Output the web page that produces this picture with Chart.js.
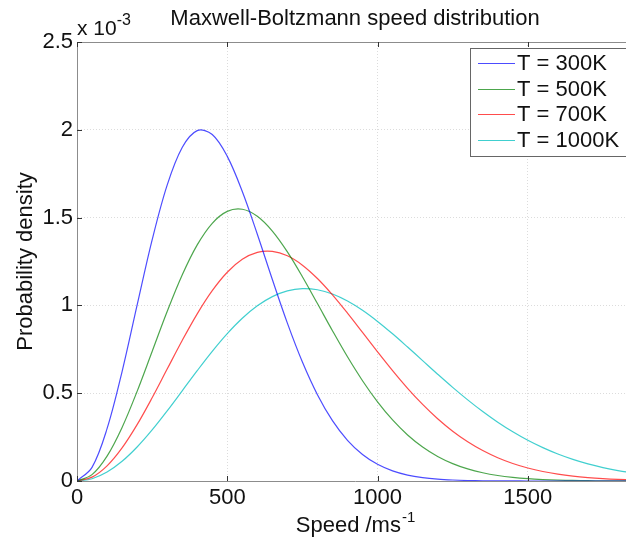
<!DOCTYPE html>
<html>
<head>
<meta charset="utf-8">
<script src="https://cdn.jsdelivr.net/npm/chart.js@4.4.1/dist/chart.umd.min.js"></script>
<style>
  html, body { margin: 0; padding: 0; background: #fff; overflow: hidden; }
  #wrap { width: 660px; height: 540px; }
</style>
</head>
<body>
<div id="wrap"><canvas id="mbChart" width="660" height="540"></canvas></div>
<script>
// Speeds (m/s) and densities (units of 1e-3)
const speeds = [0, 50, 100, 150, 200, 250, 300, 350, 400, 450, 500, 550, 600, 650, 700, 750, 800, 850, 900, 950,
    1000, 1050, 1100, 1150, 1200, 1250, 1300, 1350, 1400, 1450, 1500, 1550, 1600, 1650, 1700, 1750, 1800, 1850];

const t300 = [0, 0.0778, 0.2979, 0.6234, 1.0012, 1.3729, 1.6851, 1.8992, 1.9953, 1.9730, 1.8488, 1.6489, 1.4054, 1.1474,
    0.8992, 0.6776, 0.4917, 0.3439, 0.2319, 0.1510, 0.0949, 0.0578, 0.0339, 0.0193, 0.0106, 0.0057, 0.0029, 0.0015,
    0.0007, 0.0003, 0.0001, 0, 0, 0, 0, 0, 0, 0];
const t500 = [0, 0.0364, 0.1417, 0.3052, 0.5105, 0.7376, 0.9651, 1.1730, 1.3445, 1.4675, 1.5355, 1.5474, 1.5073, 1.4229,
    1.3045, 1.1632, 1.0104, 0.8557, 0.7072, 0.5711, 0.4506, 0.3476, 0.2623, 0.1938, 0.1400, 0.0992, 0.0688, 0.0468,
    0.0312, 0.0204, 0.0130, 0.0082, 0.0050, 0.0030, 0.0018, 0.0010, 0.0006, 0.0003];
const t700 = [0, 0.0220, 0.0864, 0.1885, 0.3208, 0.4740, 0.6374, 0.8001, 0.9519, 1.0839, 1.1889, 1.2624, 1.3021, 1.3079,
    1.2823, 1.2291, 1.1531, 1.0601, 0.9559, 0.8462, 0.7355, 0.6283, 0.5276, 0.4360, 0.3544, 0.2835, 0.2233, 0.1732,
    0.1323, 0.0995, 0.0738, 0.0539, 0.0388, 0.0275, 0.0193, 0.0133, 0.0090, 0.0061];
const t1000 = [0, 0.0129, 0.0510, 0.1122, 0.1936, 0.2908, 0.3992, 0.5134, 0.6282, 0.7383, 0.8391, 0.9266, 0.9976, 1.0501,
    1.0828, 1.0955, 1.0890, 1.0649, 1.0250, 0.9723, 0.9088, 0.8382, 0.7628, 0.6856, 0.6083, 0.5331, 0.4619, 0.3954,
    0.3346, 0.2800, 0.2318, 0.1899, 0.1537, 0.1232, 0.0976, 0.0766, 0.0595, 0.0457];

const seriesLabels = ['T = 300K', 'T = 500K', 'T = 700K', 'T = 1000K'];
const seriesColors = ['rgba(0,0,255,0.7)', 'rgba(0,128,0,0.7)', 'rgba(255,0,0,0.7)', 'rgba(0,191,191,0.75)'];
const xTicks = [0, 500, 1000, 1500];
const yTicks = [0, 0.5, 1, 1.5, 2, 2.5];

const FONT = 'Liberation Sans, Arial, Helvetica, sans-serif';
const FS = 22;

function toPoints(values) {
    return speeds.map((v, i) => ({ x: v, y: values[i] }));
}

// Box, inward ticks, legend and text in MATLAB style
const matlabDecor = {
    id: 'matlabDecor',
    afterDraw(chart) {
        const ctx = chart.ctx;
        const area = chart.chartArea;
        const xs = chart.scales.x;
        const ys = chart.scales.y;

        ctx.save();
        // top and right box lines
        ctx.strokeStyle = '#8c8c8c';
        ctx.lineWidth = 1;
        ctx.beginPath();
        ctx.moveTo(area.left, area.top + 0.5);
        ctx.lineTo(area.right, area.top + 0.5);
        ctx.moveTo(area.right - 0.5, area.top);
        ctx.lineTo(area.right - 0.5, area.bottom);
        ctx.stroke();

        // inward tick marks
        ctx.strokeStyle = '#333';
        ctx.beginPath();
        xTicks.forEach(v => {
            const px = Math.round(xs.getPixelForValue(v)) + 0.5;
            ctx.moveTo(px, area.bottom);
            ctx.lineTo(px, area.bottom - 5);
            ctx.moveTo(px, area.top);
            ctx.lineTo(px, area.top + 5);
        });
        yTicks.forEach(v => {
            const py = Math.round(ys.getPixelForValue(v)) + 0.5;
            ctx.moveTo(area.left, py);
            ctx.lineTo(area.left + 5, py);
        });
        ctx.stroke();

        // legend
        const lx = 470, ly = 48, lw = 200, lh = 108;
        ctx.fillStyle = '#fff';
        ctx.fillRect(lx, ly, lw, lh);
        ctx.strokeStyle = '#666';
        ctx.strokeRect(lx + 0.5, ly + 0.5, lw, lh);
        ctx.font = FS + 'px ' + FONT;
        ctx.textBaseline = 'middle';
        ctx.textAlign = 'left';
        chart.data.datasets.forEach((ds, i) => {
            const rowY = 63 + i * 25.7;
            ctx.strokeStyle = ds.borderColor;
            ctx.beginPath();
            ctx.moveTo(478, Math.round(rowY) + 0.5);
            ctx.lineTo(515, Math.round(rowY) + 0.5);
            ctx.stroke();
            ctx.fillStyle = '#111';
            ctx.fillText(ds.label, 517, rowY + 1);
        });

        const midX = (area.left + area.right) / 2;
        ctx.fillStyle = '#111';
        ctx.textBaseline = 'alphabetic';

        // title
        ctx.textAlign = 'center';
        ctx.font = FS + 'px ' + FONT;
        ctx.fillText('Maxwell-Boltzmann speed distribution', midX, 25);

        // x axis title with superscript
        const main = 'Speed /ms';
        const sup = '-1';
        ctx.font = FS + 'px ' + FONT;
        const mw = ctx.measureText(main).width;
        ctx.font = '15px ' + FONT;
        const sw = ctx.measureText(sup).width;
        const startX = midX - (mw + sw) / 2;
        ctx.textAlign = 'left';
        ctx.font = FS + 'px ' + FONT;
        ctx.fillText(main, startX, 532);
        ctx.font = '15px ' + FONT;
        ctx.fillText(sup, startX + mw + 1, 522);

        // exponent label
        ctx.font = '21px ' + FONT;
        ctx.fillText('x 10', 77, 35);
        const ew = ctx.measureText('x 10').width;
        ctx.font = '16px ' + FONT;
        ctx.fillText('-3', 77 + ew, 25);

        // y axis title
        ctx.translate(32, (area.top + area.bottom) / 2);
        ctx.rotate(-Math.PI / 2);
        ctx.textAlign = 'center';
        ctx.font = FS + 'px ' + FONT;
        ctx.fillText('Probability density', 0, 0);
        ctx.restore();
    }
};

const ticksFrom = list => function (scale) {
    scale.ticks = list.map(v => ({ value: v }));
};

new Chart(document.getElementById('mbChart'), {
    type: 'line',
    data: {
        datasets: [t300, t500, t700, t1000].map((vals, i) => ({
            label: seriesLabels[i],
            data: toPoints(vals),
            borderColor: seriesColors[i],
            borderWidth: 1.2,
            pointRadius: 0,
            fill: false,
            tension: 0.35
        }))
    },
    options: {
        responsive: false,
        animation: false,
        layout: { padding: { top: 42, right: 27, left: 0, bottom: 0 } },
        plugins: {
            legend: { display: false },
            title: { display: false },
            tooltip: { enabled: false }
        },
        scales: {
            x: {
                type: 'linear',
                min: 0,
                max: 1850,
                afterBuildTicks: ticksFrom(xTicks),
                afterFit(scale) { scale.height = 59; },
                grid: {
                    color: '#dcdcdc',
                    drawTicks: false
                },
                border: { display: true, color: '#8c8c8c', width: 1, dash: [1, 2] },
                ticks: {
                    padding: 4,
                    color: '#111',
                    font: { family: FONT, size: FS },
                    maxRotation: 0,
                    callback: v => String(v)
                }
            },
            y: {
                min: 0,
                max: 2.5,
                afterBuildTicks: ticksFrom(yTicks),
                afterFit(scale) { scale.width = 77; },
                grid: {
                    color: '#dcdcdc',
                    drawTicks: false
                },
                border: { display: true, color: '#8c8c8c', width: 1, dash: [1, 2] },
                ticks: {
                    padding: 4,
                    color: '#111',
                    font: { family: FONT, size: FS },
                    callback: v => String(v)
                }
            }
        }
    },
    plugins: [matlabDecor]
});
</script>
</body>
</html>
